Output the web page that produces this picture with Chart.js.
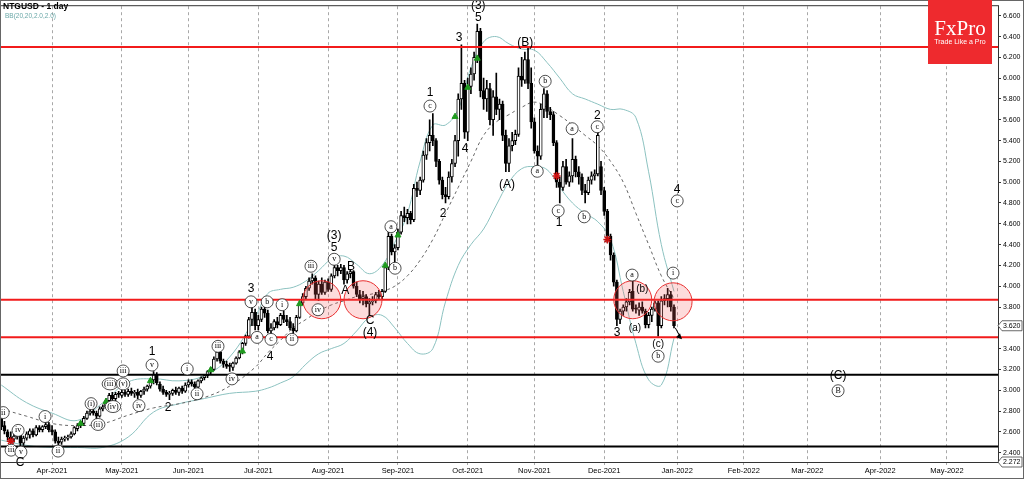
<!DOCTYPE html>
<html>
<head>
<meta charset="utf-8">
<script src="https://cdn.jsdelivr.net/npm/chart.js@4"></script>
<style>
  html, body { margin: 0; padding: 0; background: #fff; }
</style>
</head>
<body>
<canvas id="chart" width="1024" height="479"></canvas>
<script>
// NTGUSD daily, one bar per weekday from 10 Mar 2021 (index 0) to 31 Dec 2021 (index 212)
const opens = [2.72,2.66,2.60,2.55,2.53,2.56,2.58,2.49,2.54,2.57,2.61,2.57,2.64,2.62,2.65,2.67,2.62,2.60,2.51,2.50,
  2.53,2.54,2.55,2.58,2.63,2.66,2.68,2.73,2.78,2.80,2.78,2.75,2.82,2.84,2.90,2.95,2.92,2.96,2.95,2.98,
  2.96,2.99,2.97,2.98,2.95,2.99,3.01,3.04,3.10,3.15,3.06,3.01,2.98,2.96,2.97,3.00,2.98,3.02,2.99,3.05,
  3.08,3.06,3.03,3.09,3.12,3.14,3.18,3.20,3.30,3.37,3.28,3.25,3.23,3.22,3.26,3.31,3.37,3.45,3.52,3.68,
  3.75,3.62,3.68,3.78,3.74,3.57,3.60,3.66,3.63,3.72,3.68,3.66,3.60,3.57,3.70,3.84,3.90,3.98,4.05,4.08,
  3.92,4.02,3.94,4.04,3.97,4.10,4.18,4.15,4.18,4.06,4.12,4.14,4.00,3.92,3.88,3.90,3.83,3.85,3.86,3.92,
  3.90,3.95,4.18,4.48,4.33,4.37,4.52,4.68,4.66,4.70,4.64,4.94,4.92,5.02,5.26,5.38,5.45,5.40,5.20,5.02,
  4.88,4.86,5.05,5.18,5.40,5.80,5.95,5.48,5.92,6.04,6.20,6.45,5.88,5.80,5.90,5.60,5.82,5.70,5.75,5.45,
  5.18,5.35,5.40,5.46,6.02,5.98,6.18,5.95,5.58,5.30,5.25,5.70,5.85,5.68,5.65,5.38,5.00,4.95,5.15,5.00,
  5.06,5.22,5.10,5.05,4.92,4.90,5.02,5.06,5.08,5.15,4.92,4.72,4.48,4.30,4.04,3.68,3.76,3.80,3.85,3.95,
  3.78,3.77,3.80,3.76,3.63,3.72,3.78,3.84,3.62,3.86,3.88,3.92,3.80]
const highs = [2.76,2.70,2.62,2.60,2.58,2.62,2.59,2.56,2.60,2.63,2.63,2.66,2.66,2.66,2.71,2.69,2.66,2.62,2.55,2.55,
  2.56,2.57,2.60,2.65,2.68,2.70,2.75,2.80,2.85,2.82,2.80,2.84,2.86,2.92,2.97,2.98,2.98,2.99,3.00,3.00,
  3.01,3.02,3.00,3.01,3.00,3.03,3.05,3.10,3.18,3.17,3.08,3.04,3.00,2.99,3.01,3.03,3.03,3.04,3.07,3.10,
  3.10,3.08,3.10,3.13,3.15,3.19,3.22,3.32,3.40,3.38,3.30,3.28,3.26,3.27,3.32,3.38,3.46,3.53,3.70,3.80,
  3.78,3.72,3.80,3.80,3.77,3.64,3.68,3.70,3.74,3.76,3.72,3.70,3.64,3.72,3.86,3.93,4.00,4.08,4.12,4.10,
  4.05,4.08,4.06,4.07,4.12,4.22,4.20,4.21,4.20,4.14,4.16,4.15,4.04,3.96,3.95,3.92,3.88,3.90,3.94,3.96,
  3.97,4.20,4.52,4.50,4.40,4.55,4.72,4.76,4.74,4.72,4.98,5.00,5.05,5.30,5.42,5.60,5.66,5.42,5.22,5.05,
  4.95,5.10,5.22,5.45,5.85,6.32,5.98,6.00,6.10,6.25,6.52,6.48,6.00,5.98,5.95,5.88,6.05,5.80,5.78,5.50,
  5.42,5.48,5.50,6.10,6.20,6.25,6.29,6.10,5.62,5.35,5.75,5.90,5.88,5.72,5.68,5.40,5.05,5.20,5.22,5.10,
  5.42,5.25,5.15,5.08,4.98,5.05,5.10,5.12,5.52,5.20,4.95,4.74,4.50,4.32,4.06,3.78,3.82,3.88,3.97,4.07,
  3.82,3.84,3.85,3.78,3.75,3.80,3.86,3.86,3.90,3.92,3.98,3.95,3.82]
const lows = [2.62,2.58,2.52,2.49,2.50,2.53,2.45,2.47,2.52,2.54,2.55,2.56,2.60,2.60,2.63,2.60,2.57,2.49,2.44,2.48,
  2.51,2.52,2.54,2.57,2.61,2.64,2.66,2.72,2.76,2.76,2.72,2.74,2.80,2.83,2.88,2.88,2.90,2.93,2.93,2.94,
  2.94,2.95,2.93,2.92,2.93,2.96,2.99,3.02,3.06,3.05,2.99,2.96,2.94,2.91,2.95,2.96,2.95,2.97,2.98,3.03,
  3.04,3.00,3.02,3.07,3.10,3.12,3.16,3.19,3.28,3.26,3.22,3.21,3.18,3.19,3.25,3.30,3.35,3.43,3.50,3.62,
  3.58,3.58,3.66,3.70,3.55,3.53,3.58,3.60,3.62,3.65,3.62,3.58,3.53,3.56,3.69,3.82,3.88,3.96,4.02,3.88,
  3.86,3.92,3.92,3.95,3.95,4.08,4.10,4.12,4.02,4.03,4.08,3.98,3.90,3.84,3.82,3.80,3.72,3.82,3.84,3.88,
  3.88,3.94,4.16,4.30,4.20,4.35,4.50,4.62,4.60,4.60,4.62,4.86,4.88,5.00,5.22,5.30,5.35,5.15,4.98,4.84,
  4.80,4.84,5.00,5.15,5.25,5.70,5.42,5.40,5.85,5.98,6.15,5.82,5.70,5.68,5.55,5.45,5.65,5.60,5.40,5.10,
  5.10,5.30,5.36,5.44,5.92,5.95,5.90,5.52,5.28,5.12,5.22,5.62,5.62,5.60,5.35,4.95,4.80,4.92,4.98,4.96,
  5.00,5.05,4.98,4.88,4.80,4.88,4.98,5.02,5.06,4.88,4.68,4.42,4.25,4.00,3.62,3.64,3.72,3.76,3.82,3.76,
  3.74,3.72,3.74,3.60,3.60,3.66,3.76,3.52,3.60,3.82,3.80,3.76,3.60]
const closes = [2.65,2.61,2.55,2.53,2.56,2.59,2.49,2.54,2.58,2.61,2.57,2.64,2.62,2.65,2.67,2.62,2.60,2.51,2.49,2.53,
  2.54,2.55,2.58,2.64,2.66,2.69,2.73,2.78,2.80,2.78,2.75,2.82,2.84,2.90,2.95,2.92,2.96,2.95,2.98,2.96,
  2.99,2.97,2.98,2.95,2.99,3.01,3.04,3.09,3.15,3.07,3.01,2.98,2.96,2.97,3.00,2.98,3.02,2.99,3.05,3.08,
  3.06,3.03,3.09,3.12,3.14,3.18,3.20,3.30,3.37,3.28,3.25,3.23,3.22,3.26,3.31,3.37,3.45,3.52,3.68,3.75,
  3.62,3.68,3.78,3.74,3.57,3.60,3.66,3.63,3.72,3.68,3.66,3.60,3.57,3.70,3.84,3.90,3.98,4.05,4.08,3.92,
  4.02,3.94,4.04,3.97,4.10,4.18,4.15,4.18,4.06,4.12,4.14,4.00,3.92,3.88,3.90,3.83,3.85,3.86,3.92,3.90,
  3.95,4.18,4.48,4.33,4.37,4.52,4.68,4.66,4.70,4.64,4.94,4.92,5.02,5.26,5.38,5.45,5.40,5.20,5.02,4.88,
  4.86,5.05,5.18,5.40,5.80,5.95,5.48,5.92,6.04,6.20,6.45,5.88,5.80,5.90,5.60,5.82,5.70,5.75,5.45,5.18,
  5.35,5.40,5.46,6.02,5.98,6.18,5.95,5.58,5.30,5.25,5.70,5.85,5.68,5.65,5.38,5.00,4.95,5.15,5.00,5.06,
  5.22,5.10,5.05,4.92,4.90,5.02,5.06,5.08,5.45,4.92,4.72,4.48,4.30,4.04,3.68,3.76,3.80,3.85,3.94,3.78,
  3.77,3.80,3.76,3.63,3.72,3.78,3.84,3.62,3.86,3.88,3.92,3.80,3.62]

// first weekday of each month, as bar index
const monthIdx = [16, 38, 59, 81, 103, 125, 147, 168, 190, 213, 234, 254, 277, 298]
const monthLabels = ['Apr-2021', 'May-2021', 'Jun-2021', 'Jul-2021', 'Aug-2021', 'Sep-2021', 'Oct-2021',
  'Nov-2021', 'Dec-2021', 'Jan-2022', 'Feb-2022', 'Mar-2022', 'Apr-2022', 'May-2022']
const yTicks = [2.4, 2.6, 2.8, 3.0, 3.2, 3.4, 3.6, 3.8, 4.0, 4.2, 4.4, 4.6, 4.8, 5.0, 5.2, 5.4, 5.6, 5.8, 6.0, 6.2, 6.4, 6.6]

// Bollinger bands (20, 2)
const bbIdx = [0, 8, 16, 24, 32, 40, 48, 56, 64, 72, 80, 84, 88, 92, 96, 100, 104, 108, 112, 116, 120, 124, 128, 132,
  136, 140, 144, 148, 152, 156, 160, 164, 168, 172, 176, 180, 184, 188, 192, 196, 200, 204, 208, 212]
const bbUpper = [3.05, 2.88, 2.78, 2.71, 2.88, 3.08, 3.11, 3.09, 3.14, 3.32, 3.70, 3.93, 3.97, 3.99, 4.05, 4.15, 4.26, 4.29,
  4.21, 4.12, 4.20, 4.42, 4.70, 5.20, 5.55, 5.55, 5.70, 6.10, 6.35, 6.40, 6.33, 6.28, 6.27, 6.15, 6.00, 5.85, 5.80, 5.75,
  5.70, 5.70, 5.62, 5.10, 4.40, 3.95]
const bbMid = [2.82, 2.75, 2.68, 2.66, 2.68, 2.76, 2.83, 2.87, 2.93, 3.04, 3.22, 3.36, 3.48, 3.60, 3.68, 3.76, 3.82, 3.86,
  3.90, 3.92, 3.95, 4.00, 4.10, 4.25, 4.45, 4.70, 4.95, 5.20, 5.45, 5.58, 5.65, 5.72, 5.77, 5.72, 5.64, 5.55, 5.45, 5.35,
  5.20, 5.00, 4.70, 4.40, 4.10, 3.88]
const bbLower = [2.52, 2.47, 2.45, 2.45, 2.45, 2.55, 2.79, 2.87, 2.92, 2.97, 2.99, 3.02, 3.07, 3.13, 3.25, 3.35, 3.40, 3.45,
  3.57, 3.70, 3.72, 3.60, 3.45, 3.35, 3.40, 3.85, 4.20, 4.40, 4.55, 4.78, 5.00, 5.13, 5.15, 5.12, 4.95, 4.80, 4.70, 4.62,
  4.45, 3.95, 3.45, 3.10, 3.05, 3.50]

// horizontal levels
const redLevels = [6.30, 3.87, 3.51]
const blackLevels = [3.15, 2.46]

// highlighted zones (circles)
const zoneIdx = [101, 114, 199, 211.7]
const zonePrice = [3.87, 3.87, 3.87, 3.85]

// signal markers
const upIdx = [25, 33, 47, 66, 76, 94, 121, 125, 143, 147, 150]
const upPrice = [2.68, 2.89, 3.09, 3.195, 3.375, 3.83, 4.20, 4.49, 5.63, 5.91, 6.19]
const starIdx = [3, 175, 191]
const starPrice = [2.51, 5.06, 4.45]

// wave labels: text, bar index, price, kind (p = big plain, s = small plain, c = circled)
const waveLabels = [
  ['ii', 0.6, 2.785, 'c'], ['iii', 3.1, 2.424, 'c'], ['iv', 5.3, 2.614, 'c'], ['v', 6.2, 2.405, 'c'], ['C', 5.9, 2.301, 'p'],
  ['i', 13.8, 2.747, 'c'], ['ii', 17.9, 2.415, 'c'], ['(i)', 28.3, 2.871, 'c'], ['(ii)', 30.5, 2.671, 'c'],
  ['(iii)', 34.3, 3.061, 'c'], ['(iv)', 35.2, 2.843, 'c'], ['iii', 38.4, 3.185, 'c'], ['(v)', 38.4, 3.061, 'c'],
  ['iv', 43.4, 2.852, 'c'], ['v', 47.5, 3.242, 'c'], ['1', 47.5, 3.375, 'p'], ['2', 52.6, 2.833, 'p'],
  ['i', 58.6, 3.204, 'c'], ['ii', 61.7, 2.966, 'c'], ['iii', 68.3, 3.422, 'c'], ['iv', 72.7, 3.109, 'c'],
  ['v', 78.7, 3.85, 'c'], ['3', 78.7, 3.974, 'p'], ['a', 80.6, 3.508, 'c'], ['b', 83.8, 3.85, 'c'], ['c', 85.0, 3.489, 'c'],
  ['4', 84.7, 3.327, 'p'], ['i', 88.5, 3.822, 'c'], ['ii', 91.6, 3.489, 'c'], ['iii', 97.6, 4.192, 'c'], ['iv', 99.8, 3.774, 'c'],
  ['v', 104.9, 4.259, 'c'], ['5', 104.9, 4.373, 'p'], ['(3)', 104.9, 4.487, 'p'], ['A', 108.4, 3.955, 'p'], ['B', 110.2, 4.192, 'p'],
  ['C', 116.2, 3.669, 'p'], ['(4)', 116.2, 3.555, 'p'], ['a', 122.8, 4.572, 'c'], ['b', 124.1, 4.173, 'c'],
  ['c', 135.1, 5.732, 'c'], ['1', 135.1, 5.856, 'p'], ['2', 139.2, 4.696, 'p'], ['3', 144.3, 6.388, 'p'], ['4', 146.2, 5.323, 'p'],
  ['5', 150.3, 6.578, 'p'], ['(3)', 150.3, 6.70, 'p'], ['(A)', 159.4, 4.972, 'p'], ['(B)', 165.1, 6.34, 'p'],
  ['a', 168.9, 5.105, 'c'], ['b', 171.4, 5.97, 'c'], ['c', 175.5, 4.724, 'c'], ['1', 175.8, 4.61, 'p'],
  ['a', 179.9, 5.514, 'c'], ['b', 183.7, 4.667, 'c'], ['c', 187.8, 5.533, 'c'], ['2', 187.8, 5.637, 'p'],
  ['3', 194.1, 3.555, 'p'], ['a', 198.8, 4.107, 'c'], ['(a)', 199.7, 3.593, 's'], ['(b)', 202.0, 3.974, 's'],
  ['(c)', 207.0, 3.441, 's'], ['b', 207.0, 3.327, 'c'], ['i', 211.7, 4.126, 'c'], ['c', 213.0, 4.82, 'c'], ['4', 213.0, 4.924, 'p'],
  ['(C)', 263.7, 3.137, 'p'], ['B', 263.7, 2.995, 'c']
]

const barCount = closes.length
const lastClose = closes[barCount - 1]

const wickData = closes.map((c, i) => ({ x: i, y: [lows[i], highs[i]] }))
const bodyData = closes.map((c, i) => {
  let a = opens[i]
  let b = c
  if (Math.abs(a - b) < 0.01) b = a + 0.01
  return { x: i, y: [a, b] }
})
const bodyColors = closes.map((c, i) => c >= opens[i] ? '#ffffff' : '#000000')

const xMin = -0.4
const xMax = 314.1

function levelLine(price, color, width) {
  return {
    type: 'line',
    data: [{ x: xMin, y: price }, { x: xMax, y: price }],
    borderColor: color,
    borderWidth: width,
    pointRadius: 0,
    order: -1
  }
}

function bandLine(values, color, dash) {
  return {
    type: 'line',
    data: bbIdx.map((ix, k) => ({ x: ix, y: values[k] })),
    borderColor: color,
    borderWidth: 1,
    borderDash: dash,
    pointRadius: 0,
    tension: 0.4,
    order: 5
  }
}

const overlay = {
  id: 'overlay',
  afterDatasetsDraw(chart) {
    const { ctx, scales: { x, y } } = chart
    ctx.save()
    // arrow after last bar
    const ax1 = x.getPixelForValue(barCount - 0.6), ay1 = y.getPixelForValue(lastClose - 0.02)
    const ax2 = x.getPixelForValue(barCount + 1.2), ay2 = y.getPixelForValue(lastClose - 0.12)
    ctx.strokeStyle = '#000'
    ctx.lineWidth = 1
    ctx.beginPath(); ctx.moveTo(ax1, ay1); ctx.lineTo(ax2, ay2); ctx.stroke()
    ctx.beginPath(); ctx.moveTo(ax2 + 1, ay2 + 1); ctx.lineTo(ax2 - 5, ay2 - 1); ctx.lineTo(ax2 - 1, ay2 - 5); ctx.closePath()
    ctx.fillStyle = '#000'; ctx.fill()

    ctx.textAlign = 'center'
    ctx.textBaseline = 'middle'
    waveLabels.forEach(([t, i, p, k]) => {
      const px = x.getPixelForValue(i)
      const py = y.getPixelForValue(p)
      if (k === 'c') {
        ctx.font = '8px "Liberation Serif"'
        const w = ctx.measureText(t).width
        const rx = Math.max(6, w / 2 + 2)
        ctx.beginPath()
        ctx.ellipse(px, py, rx, 6, 0, 0, Math.PI * 2)
        ctx.fillStyle = '#fff'
        ctx.fill()
        ctx.lineWidth = 0.8
        ctx.strokeStyle = '#222'
        ctx.stroke()
        ctx.fillStyle = '#000'
        ctx.fillText(t, px, py)
      } else {
        ctx.font = k === 's' ? '10px "Liberation Sans"' : '12px "Liberation Sans"'
        ctx.fillStyle = '#000'
        ctx.fillText(t, px, py)
      }
    })
    ctx.restore()
  },
  afterDraw(chart) {
    const { ctx, chartArea, scales: { y } } = chart
    ctx.save()
    // plot frame and outer border
    ctx.strokeStyle = '#333'
    ctx.lineWidth = 1
    ctx.strokeRect(chartArea.left + 0.5, chartArea.top - 0.5, chartArea.right - chartArea.left, chartArea.bottom - chartArea.top + 1)
    ctx.strokeStyle = '#666'
    ctx.strokeRect(0.5, 0.5, 1023, 478)

    // header
    ctx.textAlign = 'left'
    ctx.textBaseline = 'middle'
    ctx.fillStyle = '#000'
    ctx.font = 'bold 8.5px "Liberation Sans"'
    ctx.fillText('NTGUSD - 1 day', 3, 7)
    ctx.fillStyle = '#6aa8a8'
    ctx.font = '6.5px "Liberation Sans"'
    ctx.fillText('BB(20,20,2.0,2.0)', 5, 16)

    // logo
    ctx.fillStyle = '#ee2a2e'
    ctx.fillRect(928, 0, 64, 64)
    ctx.fillStyle = '#fff'
    ctx.textAlign = 'center'
    ctx.font = '21px "Liberation Serif"'
    ctx.fillText('FxPro', 960, 29)
    ctx.font = '7px "Liberation Sans"'
    ctx.fillText('Trade Like a Pro', 960, 42)

    // price boxes on the axis
    const boxes = [[lastClose, y.getPixelForValue(lastClose)], [2.272, chartArea.bottom]]
    ctx.font = '7px "Liberation Sans"'
    ctx.textAlign = 'left'
    boxes.forEach(([v, py]) => {
      const bx = chartArea.right + 4
      ctx.fillStyle = '#fff'
      ctx.beginPath()
      ctx.moveTo(chartArea.right, py)
      ctx.lineTo(bx, py - 5)
      ctx.lineTo(bx + 20, py - 5)
      ctx.lineTo(bx + 20, py + 5)
      ctx.lineTo(bx, py + 5)
      ctx.closePath()
      ctx.fill()
      ctx.strokeStyle = '#444'
      ctx.lineWidth = 0.8
      ctx.stroke()
      ctx.fillStyle = '#000'
      ctx.fillText(v.toFixed(3), bx + 1, py)
    })
    ctx.restore()
  }
}

const datasets = [
  {
    type: 'scatter',
    data: zoneIdx.map((ix, k) => ({ x: ix, y: zonePrice[k] })),
    pointRadius: 19,
    pointBackgroundColor: 'rgba(245, 90, 90, 0.22)',
    pointBorderColor: '#e83030',
    pointBorderWidth: 1,
    order: -2
  },
  {
    type: 'scatter',
    data: upIdx.map((ix, k) => ({ x: ix, y: upPrice[k] })),
    pointStyle: 'triangle',
    pointRadius: 3.5,
    pointBackgroundColor: '#1f9a1f',
    pointBorderColor: '#1f9a1f',
    order: -3
  },
  {
    type: 'scatter',
    data: starIdx.map((ix, k) => ({ x: ix, y: starPrice[k] })),
    pointStyle: 'star',
    pointRadius: 4,
    pointBorderColor: '#cc1111',
    pointBorderWidth: 1.5,
    order: -3
  },
  ...redLevels.map(p => levelLine(p, '#f21b1b', 2)),
  ...blackLevels.map(p => levelLine(p, '#000000', 2)),
  {
    type: 'bar',
    data: bodyData,
    backgroundColor: bodyColors,
    borderColor: '#000',
    borderWidth: 1,
    borderSkipped: false,
    barThickness: 3,
    grouped: false,
    order: 1
  },
  {
    type: 'bar',
    data: wickData,
    backgroundColor: '#000',
    barThickness: 1,
    grouped: false,
    order: 2
  },
  bandLine(bbUpper, '#8cc2c0', []),
  bandLine(bbMid, '#666666', [3, 3]),
  bandLine(bbLower, '#8cc2c0', [])
]

new Chart(document.getElementById('chart'), {
  type: 'bar',
  data: { datasets },
  options: {
    responsive: false,
    animation: false,
    layout: { autoPadding: false, padding: { top: 1, left: 0, right: 0, bottom: 0 } },
    plugins: { legend: { display: false }, tooltip: { enabled: false } },
    scales: {
      x: {
        type: 'linear',
        min: xMin,
        max: xMax,
        offset: false,
        afterFit: (s) => { s.height = 17 },
        afterBuildTicks: (s) => { s.ticks = monthIdx.map(v => ({ value: v })) },
        ticks: {
          autoSkip: false,
          maxRotation: 0,
          padding: 1,
          color: '#000',
          font: { size: 7.5, family: '"Liberation Sans"' },
          callback: (v) => monthLabels[monthIdx.indexOf(v)]
        },
        grid: { color: '#a8a8a8', tickLength: 3, offset: false },
        border: { display: true, color: '#333', dash: [3, 3] }
      },
      y: {
        position: 'right',
        min: 2.31,
        max: 6.692,
        afterFit: (s) => { s.width = 26 },
        afterBuildTicks: (s) => { s.ticks = yTicks.map(v => ({ value: v })) },
        ticks: {
          autoSkip: false,
          padding: 2,
          color: '#000',
          font: { size: 7, family: '"Liberation Sans"' },
          callback: (v) => v.toFixed(3)
        },
        grid: { drawOnChartArea: false, tickLength: 3, color: '#333' },
        border: { display: true, color: '#333' }
      }
    }
  },
  plugins: [overlay]
})
</script>
</body>
</html>
